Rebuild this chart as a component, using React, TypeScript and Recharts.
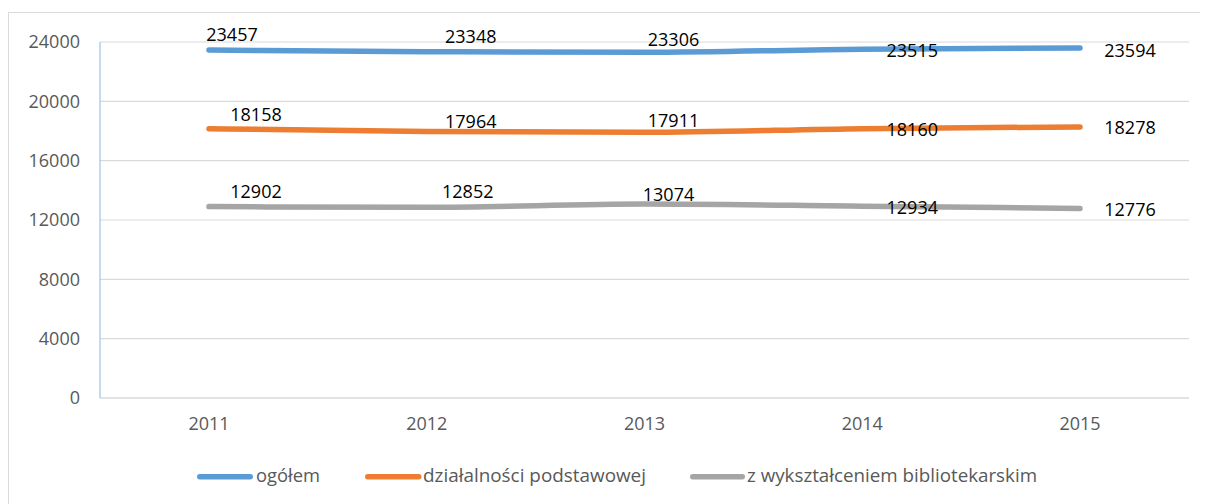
import { CartesianGrid, LabelList, Line, LineChart, XAxis, YAxis } from "recharts";

const years = ["2011", "2012", "2013", "2014", "2015"];
const ogolem = [23457, 23348, 23306, 23515, 23594];
const podstawowej = [18158, 17964, 17911, 18160, 18278];
const bibliotekarskim = [12902, 12852, 13074, 12934, 12776];
const yTicks = [0, 4000, 8000, 12000, 16000, 20000, 24000];

const seriesNames = ["ogółem", "działalności podstawowej", "z wykształceniem bibliotekarskim"];

const data = years.map((year, i) => ({
  year,
  ogolem: ogolem[i],
  podstawowej: podstawowej[i],
  bibliotekarskim: bibliotekarskim[i],
}));

// label placement, as dragged around in the original Excel chart
const series = [
  { key: "ogolem", name: seriesNames[0], color: "#5B9BD5", dx: [23, 44, 29, 50, 50], dy: [-15.5, -15.4, -12.6, 1, 2] },
  { key: "podstawowej", name: seriesNames[1], color: "#ED7D31", dx: [47, 44, 29, 50, 50], dy: [-14.6, -9.8, -12.3, 0.5, 0.6] },
  { key: "bibliotekarskim", name: seriesNames[2], color: "#A5A5A5", dx: [47, 41, 24, 50, 50], dy: [-15, -16.2, -10, 1.4, 1.2] },
];

// legend layout (wrapper coords): sample start/end, text start, text width
const legendItems = [
  { sx: 188, ex: 244, tx: 247, tw: 64 },
  { sx: 356, ex: 412.5, tx: 414, tw: 223 },
  { sx: 681, ex: 736, tx: 738, tw: 290 },
];

const FONT = "'Open Sans', sans-serif";

function makeLabel(dx: number[], dy: number[]) {
  return function ValueLabel(props: any) {
    const { x, y, value, index } = props;
    if (x == null || y == null) return null;
    return (
      <text
        x={Number(x) + dx[index]}
        y={Number(y) + dy[index]}
        dy="0.36em"
        textAnchor="middle"
        fontFamily={FONT}
        fontSize={18}
        fill="#000"
      >
        {value}
      </text>
    );
  };
}

function ChartLegend() {
  return (
    <svg width={1190} height={40} style={{ position: "absolute", left: 0, top: 448 }}>
      {series.map((s, i) => {
        const item = legendItems[i];
        return (
          <g key={s.key}>
            <line
              x1={item.sx + 2.75}
              x2={item.ex - 2.75}
              y1={15.7}
              y2={15.7}
              stroke={s.color}
              strokeWidth={5.5}
              strokeLinecap="round"
            />
            <text
              x={item.tx}
              y={21.3}
              fontFamily={FONT}
              fontSize={18}
              fill="#595959"
              textLength={item.tw}
              lengthAdjust="spacingAndGlyphs"
            >
              {s.name}
            </text>
          </g>
        );
      })}
    </svg>
  );
}

export default function App() {
  return (
    <div
      style={{
        marginTop: 4,
        width: 1199,
        height: 496,
        borderLeft: "1px solid #D9D9D9",
        borderTop: "1px solid #D9D9D9",
        position: "relative",
        background: "#fff",
      }}
    >
      <LineChart
        width={1199}
        height={490}
        data={data}
        margin={{ top: 29, right: 19, bottom: 0, left: 0 }}
      >
        <CartesianGrid vertical={false} stroke="#D9D9D9" strokeWidth={1.2} />
        <XAxis
          dataKey="year"
          height={105}
          padding={{ left: 109, right: 109 }}
          tickLine={false}
          tickSize={0}
          tickMargin={19}
          axisLine={{ stroke: "#D9D9D9", strokeWidth: 1.2 }}
          tick={{ fill: "#595959", fontSize: 18, fontFamily: FONT }}
        />
        <YAxis
          width={91}
          domain={[0, 24000]}
          ticks={yTicks}
          interval={0}
          tickLine={false}
          tickSize={0}
          tickMargin={20}
          axisLine={{ stroke: "#9DC3E6", strokeWidth: 1.2 }}
          tick={{ fill: "#595959", fontSize: 18, fontFamily: FONT }}
        />
        {series.map((s) => (
          <Line
            key={s.key}
            dataKey={s.key}
            name={s.name}
            type="monotone"
            stroke={s.color}
            strokeWidth={5.5}
            strokeLinecap="round"
            dot={false}
            activeDot={false}
            isAnimationActive={false}
          >
            <LabelList dataKey={s.key} content={makeLabel(s.dx, s.dy)} />
          </Line>
        ))}
      </LineChart>
      <ChartLegend />
    </div>
  );
}
